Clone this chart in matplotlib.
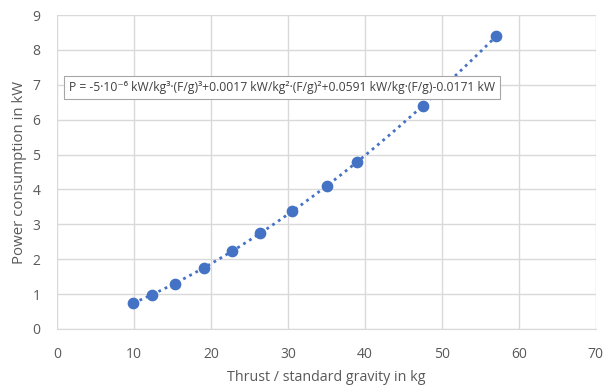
import numpy as np
import matplotlib
matplotlib.use('Agg')
import matplotlib.pyplot as plt

thrust = [9.9, 12.3, 15.3, 19.1, 22.7, 26.4, 30.5, 35.1, 39.0, 47.5, 57.1]
power = [0.75, 0.98, 1.29, 1.75, 2.23, 2.75, 3.38, 4.10, 4.78, 6.40, 8.40]
eq_label = "P = -5·10⁻⁶ kW/kg³·(F/g)³+0.0017 kW/kg²·(F/g)²+0.0591 kW/kg·(F/g)-0.0171 kW"

plt.rcParams['font.family'] = ['Open Sans', 'DejaVu Sans']
grey = '#595959'
blue = '#4472C4'

fig = plt.figure(figsize=(6.03, 3.85), dpi=100)
ax = fig.add_axes([0.0945, 0.1455, 0.8935, 0.8155])

coef = np.polyfit(thrust, power, 3)
xs = np.linspace(min(thrust), max(thrust), 200)
ax.plot(xs, np.polyval(coef, xs), color=blue, linestyle=(0, (1, 1.5)), linewidth=2, zorder=2)
ax.scatter(thrust, power, s=55, color=blue, zorder=3)

ax.set_xlim(0, 70)
ax.set_ylim(0, 9)
ax.set_xticks(range(0, 71, 10))
ax.set_yticks(range(0, 10))
ax.grid(True, color='#d9d9d9', linewidth=1)
ax.set_axisbelow(True)
for s in ['top', 'right', 'left']:
    ax.spines[s].set_visible(False)
ax.spines['bottom'].set_color('#d9d9d9')
ax.tick_params(axis='x', length=0, labelsize=10, colors=grey, pad=13)
ax.tick_params(axis='y', length=0, labelsize=10, colors=grey, pad=12)
ax.set_xlabel('Thrust / standard gravity in kg', fontsize=10.3, color=grey, labelpad=6)
ax.set_ylabel('Power consumption in kW', fontsize=10.8, color=grey, labelpad=4)

ax.text(0.0225, 0.77, eq_label, transform=ax.transAxes, fontsize=8.7, color='#404040',
        va='center', ha='left',
        bbox=dict(boxstyle='square,pad=0.4', facecolor='white', edgecolor='#a6a6a6', linewidth=0.8),
        zorder=4)

fig.savefig('out.png', dpi=100)
